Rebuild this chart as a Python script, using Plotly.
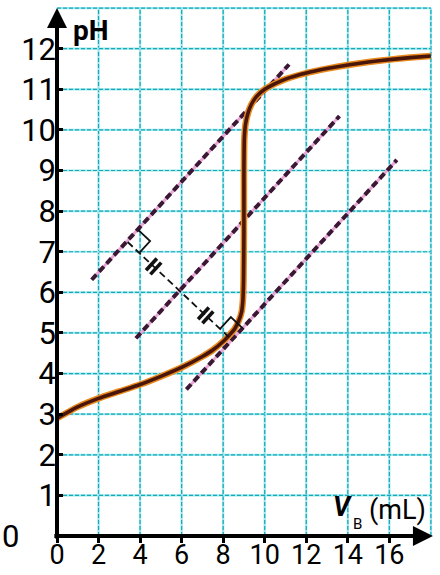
import numpy as np
import plotly.graph_objects as go

# ---------------- data ----------------
vb = [0, 1, 2, 3, 4, 5, 6, 7, 7.5, 8, 8.3, 8.55, 8.75, 8.88, 8.95, 8.98, 9.0, 9.0,
      9.02, 9.08, 9.2, 9.35, 9.6, 10.0, 10.5, 11, 12, 13, 14, 15, 16, 17, 18]
ph = [2.9, 3.18, 3.39, 3.56, 3.73, 3.93, 4.15, 4.42, 4.58, 4.79, 4.95, 5.1, 5.3, 5.5, 5.8, 6.3, 7.5, 9.0,
      9.8, 10.15, 10.42, 10.62, 10.82, 11.0, 11.14, 11.25, 11.4, 11.51, 11.6, 11.67, 11.73, 11.78, 11.82]

x_tick_vals = [0, 2, 4, 6, 8, 10, 12, 14, 16]
y_tick_vals = [1, 2, 3, 4, 5, 6, 7, 8, 9, 10, 11, 12]
grid_x = [2, 4, 6, 8, 10, 12, 14, 16, 18]
grid_y = [1, 2, 3, 4, 5, 6, 7, 8, 9, 10, 11, 12, 13]

# three parallel tangent lines (end points)
upper_x = [1.67, 11.17]
upper_y = [6.31, 11.61]
middle_x = [3.80, 13.60]
middle_y = [4.87, 10.34]
lower_x = [6.23, 16.36]
lower_y = [3.61, 9.26]
# common perpendicular (feet on upper and lower tangents)
perp_x = [3.40, 8.41]
perp_y = [7.24, 4.83]

# ---------------- geometry of the figure ----------------
W, H = 440, 575
ML, MB, MR, MT = 57, 39, 6, 4
X_MAX, Y_MAX = 18.15, 13.1
PX_X = (W - ML - MR) / X_MAX
PX_Y = (H - MT - MB) / Y_MAX

FONT = "Roboto, 'Liberation Sans', Arial, sans-serif"
GRID_LIGHT = "#9fe6ec"
GRID_DARK = "#14a9b8"
TAN_DARK = "#3a1733"
TAN_PINK = "#e9a6d6"

fig = go.Figure()

# grid (two layers: light solid + darker dashes)
shapes = []
for gx in grid_x:
    shapes.append(dict(type="line", xref="x", yref="y", x0=gx, x1=gx, y0=0, y1=13,
                       line=dict(color=GRID_LIGHT, width=2.2), layer="below"))
    shapes.append(dict(type="line", xref="x", yref="y", x0=gx, x1=gx, y0=0, y1=13,
                       line=dict(color=GRID_DARK, width=1.2, dash="4px,2px"), layer="below"))
for gy in grid_y:
    shapes.append(dict(type="line", xref="x", yref="y", x0=0, x1=18, y0=gy, y1=gy,
                       line=dict(color=GRID_LIGHT, width=2.2), layer="below"))
    shapes.append(dict(type="line", xref="x", yref="y", x0=0, x1=18, y0=gy, y1=gy,
                       line=dict(color=GRID_DARK, width=1.2, dash="4px,2px"), layer="below"))

# tangent lines
for lx, ly in [(upper_x, upper_y), (middle_x, middle_y), (lower_x, lower_y)]:
    fig.add_trace(go.Scatter(x=lx, y=ly, mode="lines", hoverinfo="skip", showlegend=False,
                             line=dict(color=TAN_PINK, width=3)))
    fig.add_trace(go.Scatter(x=lx, y=ly, mode="lines", hoverinfo="skip", showlegend=False,
                             line=dict(color=TAN_DARK, width=4, dash="7px,4px")))

# titration curve
fig.add_trace(go.Scatter(x=vb, y=ph, mode="lines", hoverinfo="skip", showlegend=False,
                         line=dict(color="#e88a1e", width=6.5, shape="spline", smoothing=0.5)))
fig.add_trace(go.Scatter(x=vb, y=ph, mode="lines", hoverinfo="skip", showlegend=False,
                         line=dict(color="#4a160c", width=3.6, shape="spline", smoothing=0.5)))

# perpendicular construction
def unit(dx_px, dy_px):
    n = np.hypot(dx_px, dy_px)
    return dx_px / n, dy_px / n

def pt(x, y, dpx, dpy):
    return x + dpx / PX_X, y + dpy / PX_Y

m = (upper_y[1] - upper_y[0]) / (upper_x[1] - upper_x[0])
tx, ty = unit(PX_X, m * PX_Y)
nx, ny = unit((perp_x[1] - perp_x[0]) * PX_X, (perp_y[1] - perp_y[0]) * PX_Y)

fig.add_trace(go.Scatter(x=perp_x, y=perp_y, mode="lines", hoverinfo="skip", showlegend=False,
                         line=dict(color="#111111", width=1.8, dash="7px,4px")))

S = 16
sq_x, sq_y = [], []
for (fx, fy, sgn) in [(perp_x[0], perp_y[0], 1), (perp_x[1], perp_y[1], -1)]:
    a = pt(fx, fy, S * tx, S * ty)
    b = pt(fx, fy, S * tx + sgn * S * nx, S * ty + sgn * S * ny)
    c = pt(fx, fy, sgn * S * nx, sgn * S * ny)
    sq_x += [a[0], b[0], c[0], None]
    sq_y += [a[1], b[1], c[1], None]
fig.add_trace(go.Scatter(x=sq_x, y=sq_y, mode="lines", hoverinfo="skip", showlegend=False,
                         line=dict(color="#111111", width=1.8)))

mk_x, mk_y = [], []
for frac in (0.25, 0.75):
    cx = perp_x[0] + frac * (perp_x[1] - perp_x[0])
    cy = perp_y[0] + frac * (perp_y[1] - perp_y[0])
    for off in (-3.0, 3.0):
        p0 = pt(cx, cy, off * nx - 8 * tx, off * ny - 8 * ty)
        p1 = pt(cx, cy, off * nx + 8 * tx, off * ny + 8 * ty)
        mk_x += [p0[0], p1[0], None]
        mk_y += [p0[1], p1[1], None]
fig.add_trace(go.Scatter(x=mk_x, y=mk_y, mode="lines", hoverinfo="skip", showlegend=False,
                         line=dict(color="#111111", width=3.6)))

# axes as arrows + labels
PW = W - ML - MR
annotations = [
    dict(x=0, y=13.0, ax=0, ay=-0.1, xref="x", yref="y", axref="x", ayref="y", text="",
         showarrow=True, arrowhead=2, arrowsize=1.0, arrowwidth=4, arrowcolor="#000", standoff=0),
    dict(x=18.1, y=0, ax=-0.2, ay=0, xref="x", yref="y", axref="x", ayref="y", text="",
         showarrow=True, arrowhead=2, arrowsize=1.0, arrowwidth=4, arrowcolor="#000", standoff=0),
    dict(x=(71 - ML) / PX_X, y=(H - MB - 30) / PX_Y, xref="x", yref="y", text="<b>pH</b>", showarrow=False,
         xanchor="left", yanchor="middle", font=dict(family=FONT, size=28, color="#000")),
    dict(x=-ML / PW, y=0, xref="paper", yref="paper", text="0", showarrow=False,
         xanchor="left", yanchor="middle", font=dict(family=FONT, size=31, color="#000")),
    dict(x=(354 - ML) / PX_X, y=(H - MB - 507) / PX_Y, xref="x", yref="y", text="<b><i>V</i></b>",
         showarrow=False, xanchor="right", yanchor="middle", font=dict(family=FONT, size=27, color="#000")),
    dict(x=(357.5 - ML) / PX_X, y=(H - MB - 524) / PX_Y, xref="x", yref="y", text="B",
         showarrow=False, xanchor="center", yanchor="middle", font=dict(family=FONT, size=15, color="#000")),
    dict(x=(428 - ML) / PX_X, y=(H - MB - 510) / PX_Y, xref="x", yref="y", text="(mL)",
         showarrow=False, xanchor="right", yanchor="middle", font=dict(family=FONT, size=27, color="#000")),
]

fig.update_layout(
    template="none",
    width=W, height=H,
    margin=dict(l=ML, r=MR, t=MT, b=MB, pad=0, autoexpand=False),
    paper_bgcolor="white", plot_bgcolor="white",
    shapes=shapes, annotations=annotations, showlegend=False,
    xaxis=dict(range=[0, X_MAX], showgrid=False, zeroline=False, showline=False, automargin=False,
               tickvals=x_tick_vals, ticktext=[str(v) for v in x_tick_vals],
               ticks="outside", ticklen=6, tickwidth=3, tickcolor="#000", ticklabelstandoff=-11,
               tickfont=dict(family=FONT, size=27, color="#000"), fixedrange=True),
    yaxis=dict(range=[0, Y_MAX], showgrid=False, zeroline=False, showline=False, automargin=False,
               tickvals=y_tick_vals, ticktext=[str(v) for v in y_tick_vals],
               ticks="inside", ticklen=6, tickwidth=3, tickcolor="#000", ticklabelstandoff=0,
               tickfont=dict(family=FONT, size=31, color="#000"), fixedrange=True),
)

fig.write_html("out.html", config={"displayModeBar": False},
               post_script="document.body.style.margin='0';document.body.style.overflow='hidden';")
